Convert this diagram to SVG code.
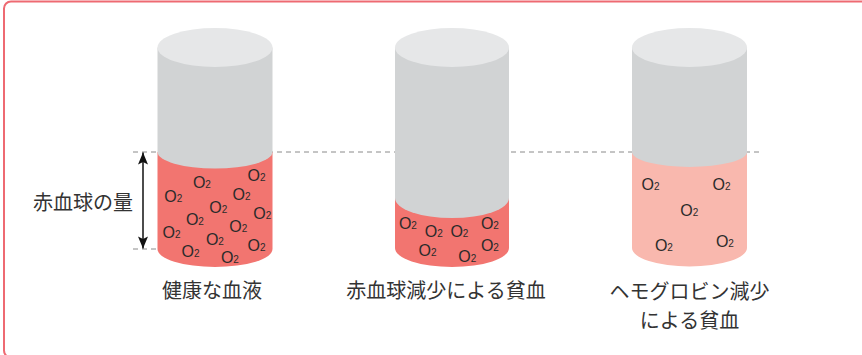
<svg xmlns="http://www.w3.org/2000/svg" width="862" height="355" viewBox="0 0 862 355">
  <style>
    .frame { fill: #ffffff; stroke: #ee6a72; stroke-width: 2; }
    .body { fill: #d1d3d4; }
    .lid { fill: #e6e7e8; }
    .blood { fill: #f27570; }
    .thin { fill: #f9b8ae; }
    .guide { stroke: #8a8a8a; stroke-width: 1; stroke-dasharray: 5 4; fill: none; }
    .label { font-family: "Noto Sans CJK JP", "Noto Sans", sans-serif; font-size: 20px; fill: #333333; }
    .o2 { font-family: "Liberation Sans", Arial, sans-serif; font-size: 16px; fill: #2b2b2b; }
    .o2 tspan { font-size: 10px; }
    .measure { stroke: #111111; stroke-width: 1.5; fill: none; }
  </style>
  <defs>
    <marker id="head" viewBox="-13 -6 14 12" refX="0" refY="0" markerWidth="14" markerHeight="12" markerUnits="userSpaceOnUse" orient="auto-start-reverse">
      <path d="M0,0 L-12,-5 L-9.5,0 L-12,5 Z" fill="#111111"/>
    </marker>
  </defs>

  <rect class="frame" x="4" y="1.5" width="880" height="356" rx="7"/>

  <!-- reference levels -->
  <g id="connectors">
    <line class="guide" x1="133" y1="152" x2="762" y2="152"/>
    <line class="guide" x1="133" y1="249" x2="158" y2="249"/>
    <line class="measure" x1="143" y1="152.5" x2="143" y2="248.5" marker-start="url(#head)" marker-end="url(#head)"/>
  </g>

  <g id="amount-label">
    <text class="label" x="133" y="210" text-anchor="end">赤血球の量</text>
  </g>

  <!-- healthy blood -->
  <g id="healthy">
    <path class="blood" d="M157.5,152 L157.5,249 A57.5,18 0 0 0 272.5,249 L272.5,152 Z"/>
    <path class="body" d="M157.5,47.5 L157.5,152 A57.5,16.5 0 0 0 272.5,152 L272.5,47.5 Z"/>
    <ellipse class="lid" cx="215" cy="47.5" rx="57.5" ry="19.5"/>
    <text class="o2" x="247.5" y="181">O<tspan>2</tspan></text>
    <text class="o2" x="192.9" y="188.3">O<tspan>2</tspan></text>
    <text class="o2" x="164.2" y="201.7">O<tspan>2</tspan></text>
    <text class="o2" x="232.5" y="200">O<tspan>2</tspan></text>
    <text class="o2" x="209.2" y="212.7">O<tspan>2</tspan></text>
    <text class="o2" x="253.2" y="219.3">O<tspan>2</tspan></text>
    <text class="o2" x="185.9" y="225">O<tspan>2</tspan></text>
    <text class="o2" x="229.2" y="231.7">O<tspan>2</tspan></text>
    <text class="o2" x="162.5" y="238.3">O<tspan>2</tspan></text>
    <text class="o2" x="205.9" y="245">O<tspan>2</tspan></text>
    <text class="o2" x="247.5" y="251">O<tspan>2</tspan></text>
    <text class="o2" x="181.5" y="256.7">O<tspan>2</tspan></text>
    <text class="o2" x="220.9" y="262.5">O<tspan>2</tspan></text>
    <text class="label" x="212" y="298" text-anchor="middle">健康な血液</text>
  </g>

  <!-- fewer red blood cells -->
  <g id="rbc-anemia">
    <path class="blood" d="M395,198 L395,248 A57,19 0 0 0 509,248 L509,198 Z"/>
    <path class="body" d="M395,47.5 L395,198 A57,20 0 0 0 509,198 L509,47.5 Z"/>
    <ellipse class="lid" cx="452" cy="47.5" rx="57" ry="19.5"/>
    <text class="o2" x="398.9" y="229">O<tspan>2</tspan></text>
    <text class="o2" x="424.7" y="237.3">O<tspan>2</tspan></text>
    <text class="o2" x="450.4" y="237.3">O<tspan>2</tspan></text>
    <text class="o2" x="480.9" y="229">O<tspan>2</tspan></text>
    <text class="o2" x="418.5" y="255.8">O<tspan>2</tspan></text>
    <text class="o2" x="480.9" y="250.8">O<tspan>2</tspan></text>
    <text class="o2" x="458.2" y="262.3">O<tspan>2</tspan></text>
    <text class="label" x="446" y="298" text-anchor="middle">赤血球減少による貧血</text>
  </g>

  <!-- less hemoglobin -->
  <g id="hb-anemia">
    <path class="thin" d="M632,152 L632,248 A57.5,18.5 0 0 0 747,248 L747,152 Z"/>
    <path class="body" d="M632,47.5 L632,152 A57.5,15 0 0 0 747,152 L747,47.5 Z"/>
    <ellipse class="lid" cx="689.5" cy="47.5" rx="57.5" ry="19.5"/>
    <text class="o2" x="641.5" y="190">O<tspan>2</tspan></text>
    <text class="o2" x="712.5" y="190">O<tspan>2</tspan></text>
    <text class="o2" x="680.2" y="216">O<tspan>2</tspan></text>
    <text class="o2" x="654.9" y="250.7">O<tspan>2</tspan></text>
    <text class="o2" x="715.9" y="246.7">O<tspan>2</tspan></text>
    <text class="label" x="689.5" y="299" text-anchor="middle">ヘモグロビン減少</text>
    <text class="label" x="689.5" y="327.5" text-anchor="middle">による貧血</text>
  </g>
</svg>
